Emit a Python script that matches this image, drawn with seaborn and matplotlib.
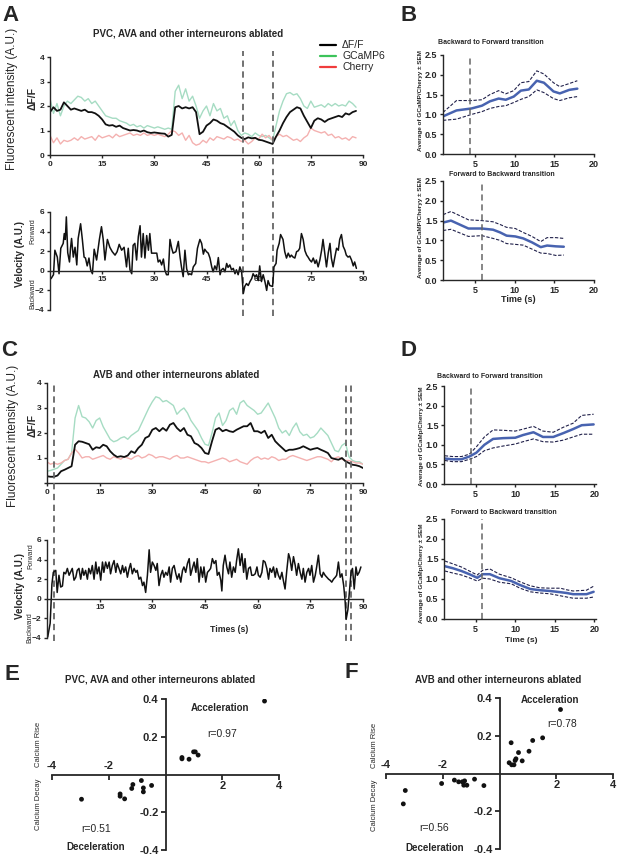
import numpy as np
import matplotlib
matplotlib.use('Agg')
import matplotlib.pyplot as plt
import seaborn as sns
from matplotlib.lines import Line2D

# estilo general (tipo Prism)
sns.set_style('ticks')
plt.rcParams['font.family'] = ['Liberation Sans', 'DejaVu Sans']
plt.rcParams['font.weight'] = 'bold'
plt.rcParams['axes.facecolor'] = 'none'
plt.rcParams['axes.linewidth'] = 1.0
plt.rcParams['xtick.major.width'] = 1.0
plt.rcParams['ytick.major.width'] = 1.0
plt.rcParams['xtick.major.size'] = 2.5
plt.rcParams['ytick.major.size'] = 2.5

# ---------------- datos ----------------
# A: PVC, AVA ablated (muestras cada 1 s)
a_t = np.arange(0, 89)
a_dff = [1.75, 1.95, 1.8, 1.85, 2.15, 2.0, 1.85, 1.9, 1.85, 1.8,
         1.85, 1.75, 1.75, 1.7, 1.6, 1.45, 1.25, 1.2, 1.22, 1.15,
         1.2, 1.1, 1.05, 1.0, 1.02, 1.0, 0.95, 1.0, 0.93, 0.9,
         0.92, 0.9, 0.88, 0.87, 0.75, 0.82, 1.95, 2.0, 1.9, 1.95,
         1.9, 1.95, 1.75, 0.85, 0.95, 1.2, 1.3, 1.45, 1.4, 1.3,
         1.25, 1.15, 1.05, 0.95, 0.8, 0.7, 0.65, 0.72, 0.68, 0.7,
         0.62, 0.6, 0.55, 0.5, 0.45, 0.75, 1.0, 1.3, 1.55, 1.75,
         1.85, 1.95, 1.9, 1.6, 1.35, 1.1, 1.4, 1.5, 1.45, 1.35,
         1.45, 1.5, 1.55, 1.6, 1.55, 1.7, 1.65, 1.75, 1.8]
a_gcamp = [2.3, 1.7, 2.1, 1.6, 2.0, 2.2, 2.1, 2.25, 2.4, 2.35,
           2.2, 2.3, 2.1, 2.2, 2.0, 1.8, 1.6, 1.55, 1.5, 1.5,
           1.4, 1.35, 1.3, 1.2, 1.25, 1.15, 1.2, 1.1, 1.2, 1.15,
           1.1, 1.15, 1.1, 1.05, 1.1, 1.05, 2.6, 2.85, 2.3, 2.7,
           2.2, 2.4, 2.0, 1.5, 1.8, 2.0, 1.6, 2.1, 1.8, 1.9,
           1.5, 1.6, 1.2, 1.4, 1.0, 0.8, 0.9, 0.85, 0.75, 0.9,
           0.8, 0.75, 0.8, 0.7, 0.6, 1.2, 1.8, 2.2, 2.5, 2.55,
           2.45, 2.5, 2.3, 2.0, 1.9, 2.2, 1.95, 2.0, 2.05, 1.95,
           2.1, 2.0, 2.1, 2.0, 2.05, 2.0, 2.2, 2.1, 1.95]
a_cherry = [0.8, 0.5, 0.7, 0.45, 0.6, 0.55, 0.6, 0.7, 0.6, 0.75,
            0.65, 0.7, 0.75, 0.6, 0.8, 0.7, 0.75, 0.8, 0.7, 0.85,
            0.75, 0.8, 0.85, 0.9, 0.8, 0.85, 0.8, 0.9, 0.8, 0.85,
            0.8, 0.85, 0.8, 0.75, 0.85, 1.0, 0.95, 0.8, 0.9, 0.6,
            0.8, 0.5, 0.4, 0.45, 0.6, 0.5, 0.7, 0.6, 0.75, 0.7,
            0.65, 0.75, 0.7, 0.6, 0.65, 0.55, 0.6, 0.45, 0.55, 0.7,
            0.65, 0.85, 0.7, 0.8, 0.6, 0.75, 0.85, 0.75, 0.8, 0.7,
            0.6, 0.65, 0.55, 0.7, 0.8, 1.1, 1.0, 0.95, 0.9, 0.95,
            0.8, 0.85, 0.7, 0.75, 0.65, 0.7, 0.6, 0.75, 0.7]
a_vel_t = [0.3, 1.0, 1.4, 2.1, 2.6, 3.1, 3.8, 4.1, 4.4, 4.7,
           5.1, 5.6, 5.9, 6.2, 6.7, 7.2, 7.7, 8.1, 8.8, 9.3,
           9.8, 10.2, 10.7, 11.2, 11.7, 12.2, 12.7, 13.4, 14.2, 14.8,
           15.3, 15.8, 16.5, 17.2, 17.9, 18.7, 19.3, 19.9, 20.6, 21.3,
           22.0, 22.5, 23.0, 23.5, 23.9, 24.4, 24.9, 25.4, 25.9, 26.3,
           26.8, 27.3, 27.8, 28.3, 28.7, 29.2, 30.2, 30.7, 31.1, 31.6,
           32.1, 32.6, 33.0, 33.5, 34.0, 34.5, 35.0, 35.4, 36.2, 36.9,
           37.4, 37.8, 38.3, 38.8, 39.3, 39.8, 40.2, 40.7, 41.2, 41.9,
           42.4, 43.1, 43.6, 44.1, 44.5, 45.0, 45.5, 46.0, 46.5, 46.9,
           47.4, 47.9, 48.4, 48.9, 49.3, 49.8, 50.3, 50.8, 51.2, 51.7,
           52.2, 52.7, 53.2, 53.6, 54.1, 54.6, 55.1, 55.6, 56.0, 56.5,
           57.0, 57.5, 58.0, 58.4, 58.9, 59.4, 59.9, 60.3, 60.8, 61.3,
           61.8, 62.3, 62.7, 63.2, 64.0, 64.4, 65.0, 65.3, 65.9, 66.3,
           67.0, 67.5, 68.0, 68.5, 69.0, 69.4, 69.9, 70.4, 70.9, 71.4,
           71.8, 72.3, 72.8, 73.3, 73.8, 74.2, 74.7, 75.2, 75.7, 76.2,
           76.6, 77.1, 77.6, 78.1, 78.5, 79.0, 79.5, 80.0, 80.5, 80.9,
           81.4, 81.9, 82.4, 82.9, 83.3, 83.8, 84.3, 84.8, 85.2, 85.7,
           86.2, 86.7, 87.2, 87.6, 88.1]
a_vel = [-0.8, -0.4, 2.1, 1.4, -0.3, 2.3, 2.8, 3.8, 3.2, 5.5,
         1.85, 0.9, 2.3, 3.3, 1.4, 2.4, 0.6, 3.3, 4.8, 3.2,
         1.4, 1.3, 0.5, 1.3, 0.1, -0.3, 2.2, 1.1, 3.2, 4.5,
         3.2, 1.1, 3.2, 2.4, 1.95, 1.6, 1.95, 2.7, 2.1, 2.4,
         0.4, 2.3, 0.1, -0.3, 2.6, 2.8, 1.1, 3.5, 4.6, 1.4,
         3.8, 1.3, 3.6, 2.1, 3.8, 1.8, 1.8, 1.8, 0.9, 1.1,
         0.6, 1.2, 0.1, -0.4, -0.4, 3.2, 2.3, 1.8, 1.95, 3.0,
         1.4, 0.4, -0.6, 2.1, 0.2, -0.4, -0.3, -0.4, 0.4, 0.75,
         2.3, 3.2, 2.8, 1.7, 2.2, 1.95, 1.8, 1.3, 0.4, -0.1,
         0.5, 0.1, 1.35, -0.4, 0.1, 0.25, -0.1, 0.75, 0.35, 0.6,
         0.1, 0.25, -0.3, 0.1, -0.4, 0.4, -0.1, -2.3, -1.6, -1.3,
         -1.5, -1.1, -0.8, -0.3, -0.6, -0.4, -1.0, 0.5, -1.1, -0.4,
         -1.1, -2.0, -1.0, -1.5, -1.6, 0.4, 0.75, 2.1, 2.8, 3.7,
         3.2, 1.95, 1.3, 1.8, 1.4, 1.6, 1.4, 1.3, 1.95, 2.05,
         2.3, 3.8, 3.2, 2.05, 1.6, 1.4, 1.1, 0.9, 1.3, 0.75,
         1.1, 0.4, 1.1, 2.1, 3.2, 1.8, 0.4, 1.8, 2.8, 1.3,
         0.4, 1.4, 2.3, 2.1, 3.2, 3.7, 2.5, 2.1, 1.6, 1.4,
         1.5, 1.1, 0.5, 0.9, 0.25]
a_marks = [55.5, 64.1]

# C: AVB ablated
c_t = np.arange(0, 91)
c_dff = [0.27, 0.25, 0.25, 0.3, 0.47, 0.53, 0.6, 0.67, 1.53, 1.67,
         1.65, 1.6, 1.55, 1.33, 1.43, 1.4, 1.53, 1.47, 1.27, 1.13,
         1.04, 1.07, 1.04, 1.1, 1.27, 1.2, 1.4, 1.53, 1.8, 1.87,
         2.13, 2.2, 2.07, 2.2, 2.09, 2.33, 2.4, 2.2, 2.07, 2.2,
         1.93, 1.87, 1.6, 1.53, 1.4, 1.2, 1.16, 1.67, 2.13, 2.2,
         2.07, 2.13, 2.07, 2.04, 2.13, 2.2, 2.27, 2.27, 2.4, 2.07,
         2.07, 2.0, 2.09, 1.8, 1.93, 1.67, 1.53, 1.4, 1.27, 1.33,
         1.33, 1.36, 1.4, 1.47, 1.4, 1.33, 1.37, 1.4, 1.33, 1.27,
         1.2, 1.0, 0.96, 0.93, 1.0, 0.87, 0.8, 0.73, 0.71, 0.67, 0.6]
c_gcamp = [0.47, 0.5, 0.55, 0.6, 0.75, 0.9, 0.95, 1.2, 2.6, 3.1,
           2.65, 2.6, 2.45, 2.2, 2.5, 2.6, 2.25, 2.0, 1.75, 1.65,
           1.7, 1.8, 1.85, 1.75, 1.9, 2.0, 2.1, 2.4, 2.7, 3.0,
           3.25, 3.45, 3.4, 3.25, 3.3, 3.2, 3.1, 2.75, 2.9, 3.0,
           2.8, 2.5, 2.3, 2.1, 1.8, 1.55, 1.5, 2.0, 2.6, 2.8,
           2.3, 2.5, 2.9, 3.0, 2.75, 3.2, 3.3, 3.1, 3.0, 2.9,
           2.75, 2.8, 3.0, 3.2, 2.9, 2.6, 2.2, 2.0, 2.1, 1.9,
           2.2, 2.4, 2.05, 1.9, 1.95, 1.8, 1.85, 2.0, 2.2, 2.05,
           1.9, 1.6, 1.3, 1.25, 1.5, 1.6, 1.05, 0.9, 0.85, 0.85, 0.75]
c_cherry = [0.85, 0.75, 0.8, 0.75, 0.8, 0.9, 0.95, 1.2, 1.35, 1.2,
            1.0, 1.05, 1.05, 0.95, 1.0, 1.05, 1.1, 1.0, 0.95, 1.05,
            1.0, 0.95, 1.05, 1.0, 0.95, 1.05, 1.1, 1.0, 1.05, 1.15,
            1.1, 1.0, 1.05, 1.05, 1.0, 0.95, 1.05, 1.1, 1.0, 1.0,
            1.05, 1.0, 0.95, 0.9, 0.85, 0.85, 0.8, 0.85, 0.9, 0.95,
            1.0, 0.95, 0.85, 0.9, 0.95, 0.85, 0.8, 0.75, 0.9, 1.0,
            1.05, 0.95, 1.0, 0.95, 1.05, 1.0, 0.9, 0.95, 0.95, 1.05,
            1.1, 1.05, 1.0, 0.95, 0.9, 0.95, 1.0, 1.05, 1.05, 1.0,
            0.95, 0.85, 1.0, 1.05, 0.95, 0.9, 0.9, 0.85, 0.8, 0.8, 0.75]
c_vel_t = [0.2, 0.9, 1.4, 1.8, 2.5, 2.9, 3.4, 3.9, 4.4, 4.8,
           5.3, 5.8, 6.3, 6.7, 7.2, 7.7, 8.2, 8.6, 9.1, 9.6,
           10.1, 10.5, 11.0, 11.5, 11.9, 12.4, 12.9, 13.4, 13.9, 14.3,
           14.8, 15.3, 15.8, 16.2, 16.7, 17.2, 17.7, 18.1, 18.6, 19.1,
           19.6, 20.0, 20.5, 21.0, 21.5, 21.9, 22.4, 22.9, 23.4, 23.8,
           24.3, 24.8, 25.3, 25.7, 26.2, 26.7, 27.2, 27.6, 28.1, 28.6,
           29.1, 29.5, 30.0, 30.5, 31.0, 31.4, 31.9, 32.4, 32.9, 33.3,
           33.8, 34.3, 34.8, 35.2, 35.7, 36.2, 36.7, 37.1, 37.6, 38.1,
           38.6, 39.0, 39.5, 40.0, 40.5, 40.9, 41.4, 41.9, 42.4, 42.8,
           43.3, 43.8, 44.3, 44.7, 45.2, 45.7, 46.2, 46.6, 47.1, 47.6,
           48.1, 48.5, 49.0, 49.5, 49.8, 50.2, 50.7, 51.2, 51.7, 52.1,
           52.6, 53.1, 53.6, 54.0, 54.5, 55.0, 55.5, 56.0, 56.4, 56.9,
           57.4, 57.9, 58.3, 58.8, 59.3, 59.8, 60.2, 60.7, 61.2, 61.6,
           62.1, 62.6, 63.1, 63.5, 64.0, 64.5, 65.0, 65.4, 65.9, 66.4,
           66.9, 67.3, 67.8, 68.3, 68.8, 69.2, 69.7, 70.2, 70.7, 71.1,
           71.6, 72.1, 72.6, 73.0, 73.5, 74.0, 74.5, 74.9, 75.4, 75.9,
           76.4, 76.8, 77.3, 77.8, 78.3, 78.7, 79.2, 79.7, 80.2, 80.6,
           81.1, 81.6, 82.1, 82.5, 83.0, 83.5, 84.0, 84.5, 84.9, 85.2,
           85.7, 86.1, 86.6, 87.0, 87.5, 88.0, 88.4, 88.9, 89.4]
c_vel = [-3.9, -2.5, 1.5, 2.7, 2.9, 0.65, 2.4, 1.2, 1.3, 2.7,
         2.55, 3.1, 2.4, 2.7, 3.1, 1.9, 2.2, 2.9, 3.1, 2.0,
         3.1, 2.4, 2.9, 2.0, 3.1, 2.55, 3.4, 2.0, 3.75, 2.55,
         3.25, 1.9, 3.75, 2.7, 3.75, 3.1, 3.75, 2.55, 3.4, 3.9,
         2.7, 3.6, 3.1, 2.55, 3.4, 2.7, 3.25, 2.2, 3.1, 3.6,
         2.55, 3.1, 2.7, 2.9, 2.0, 2.2, 1.35, 1.7, 0.65, 2.4,
         5.0, 2.7, 3.75, 3.4, 2.9, 3.6, 1.35, 2.4, 2.9, 2.2,
         2.7, 2.4, 3.25, 1.7, 3.1, 3.4, 2.55, 2.0, 2.55, 1.7,
         2.9, 3.25, 2.7, 3.6, 4.1, 2.4, 3.1, 3.75, 2.7, 4.1,
         1.7, 3.25, 2.2, 3.25, 1.7, 2.7, 2.9, 3.1, 4.1, 3.6,
         3.9, 2.4, 2.7, 1.9, 0.8, 3.4, 4.45, 3.25, 2.55, 3.75,
         2.2, 3.25, 2.7, 3.9, 5.1, 3.4, 4.6, 2.7, 4.1, 2.0,
         3.1, 3.25, 2.4, 2.4, 2.55, 3.25, 2.4, 2.2, 2.7, 3.9,
         3.75, 3.1, 2.0, 3.1, 2.7, 3.25, 2.2, 3.1, 2.4, 2.0,
         2.7, 1.9, 1.0, 2.9, 4.6, 4.1, 2.9, 4.3, 3.4, 2.4,
         3.6, 2.7, 2.0, 3.1, 1.7, 2.7, 3.1, 2.4, 3.4, 1.7,
         2.4, 3.25, 4.45, 2.55, 2.2, 2.7, 2.4, 2.2, 2.0, 1.9,
         1.7, 2.0, 2.2, 2.4, 3.75, 2.2, 2.55, 1.35, -0.2, -2.1,
         -1.1, 0.65, 2.7, 3.1, 1.0, 3.25, 2.4, 2.7, 3.25]
c_marks = [1.9, 85.1, 86.5]

# B: promedios de transiciones (PVC, AVA ablated)
b1_t = [1.0, 2.7, 4.6, 5.9, 6.9, 8.0, 8.9, 9.9, 10.8, 11.8, 12.8, 13.7, 14.9, 15.7, 16.9, 17.9]
b1_mean = [0.95, 1.1, 1.15, 1.22, 1.33, 1.4, 1.37, 1.45, 1.6, 1.63, 1.85, 1.8, 1.58, 1.53, 1.62, 1.65]
b1_hi = [1.05, 1.35, 1.35, 1.37, 1.5, 1.6, 1.52, 1.6, 1.8, 1.83, 2.1, 2.02, 1.8, 1.7, 1.78, 1.85]
b1_lo = [0.85, 0.88, 1.0, 1.07, 1.15, 1.2, 1.22, 1.3, 1.38, 1.45, 1.62, 1.55, 1.4, 1.35, 1.42, 1.45]
b1_mark = 4.45
b2_t = [1.0, 2.0, 4.2, 5.9, 7.3, 8.2, 9.0, 10.1, 11.1, 12.2, 13.3, 14.1, 15.2, 16.2]
b2_mean = [1.45, 1.5, 1.3, 1.3, 1.27, 1.2, 1.12, 1.1, 1.05, 0.95, 0.83, 0.87, 0.85, 0.84]
b2_hi = [1.65, 1.73, 1.52, 1.5, 1.47, 1.4, 1.33, 1.3, 1.2, 1.1, 0.97, 1.07, 1.07, 1.05]
b2_lo = [1.25, 1.28, 1.1, 1.12, 1.05, 1.0, 0.92, 0.9, 0.88, 0.78, 0.68, 0.67, 0.62, 0.63]
b2_mark = 5.9

# D: promedios de transiciones (AVB ablated)
d1_t = [1.1, 2.1, 3.2, 4.2, 5.1, 6.1, 7.2, 8.5, 10.0, 11.0, 12.3, 13.5, 14.8, 16.1, 17.3, 18.4, 19.9]
d1_mean = [0.65, 0.63, 0.63, 0.7, 0.8, 1.0, 1.15, 1.17, 1.18, 1.25, 1.32, 1.2, 1.2, 1.3, 1.4, 1.5, 1.52]
d1_hi = [0.72, 0.7, 0.7, 0.76, 0.95, 1.2, 1.38, 1.37, 1.35, 1.4, 1.47, 1.35, 1.32, 1.45, 1.55, 1.75, 1.78]
d1_lo = [0.6, 0.57, 0.57, 0.63, 0.7, 0.85, 0.92, 0.97, 1.02, 1.08, 1.15, 1.08, 1.07, 1.12, 1.2, 1.27, 1.27]
d1_mark = 4.35
d2_t = [1.1, 2.1, 3.2, 4.2, 5.2, 5.9, 6.8, 8.0, 9.5, 10.6, 11.9, 13.1, 14.4, 15.7, 16.5, 17.3, 19.0, 19.9]
d2_mean = [1.32, 1.27, 1.2, 1.12, 1.03, 1.12, 1.12, 1.02, 0.95, 0.85, 0.75, 0.72, 0.7, 0.67, 0.65, 0.62, 0.62, 0.68]
d2_hi = [1.45, 1.38, 1.3, 1.2, 1.1, 1.22, 1.25, 1.12, 1.03, 0.93, 0.83, 0.78, 0.77, 0.77, 0.73, 0.7, 0.72, 0.82]
d2_lo = [1.2, 1.15, 1.1, 1.03, 0.95, 1.02, 1.0, 0.92, 0.88, 0.77, 0.68, 0.65, 0.63, 0.58, 0.55, 0.52, 0.52, 0.55]
d2_mark = 5.8

# E / F: correlaciones velocidad vs calcio
e_x = [3.49, 0.58, 0.58, 0.83, 0.99, 1.05, 1.15, -2.96, -1.6, -1.6, -1.44, -1.19, -1.15, -0.85, -0.78, -0.78, -0.49]
e_y = [0.389, 0.09, 0.083, 0.081, 0.12, 0.12, 0.103, -0.131, -0.103, -0.115, -0.129, -0.074, -0.053, -0.032, -0.071, -0.092, -0.058]
f_x = [2.15, 1.52, 1.17, 1.04, 0.67, 0.41, 0.58, 0.55, 0.8, 0.34, 0.43, 0.51,
       -3.32, -3.39, -2.04, -1.59, -1.44, -1.31, -1.23, -1.26, -1.15, -0.88, -0.55]
f_y = [0.339, 0.189, 0.175, 0.118, 0.111, 0.163, 0.078, 0.069, 0.067, 0.057, 0.046, 0.046,
       -0.09, -0.161, -0.053, -0.035, -0.044, -0.044, -0.039, -0.062, -0.062, -0.03, -0.064]

# colores
BLACK = '#111111'
GREEN_TRACE = '#a6dcc3'
RED_TRACE = '#f4b1b0'
BLUE = '#4863b0'
NAVY = '#20204a'
GRAY = '#666666'

W, H = 617, 858
fig = plt.figure(figsize=(W / 100, H / 100), dpi=100)


def px_axes(x0, y0, x1, y1):
    return fig.add_axes([x0 / W, 1 - y1 / H, (x1 - x0) / W, (y1 - y0) / H])


def ftext(x, y, s, **kw):
    return fig.text(x / W, 1 - y / H, s, **kw)


def fluor_panel(ax, t, dff, gcamp, cherry):
    sns.lineplot(x=t, y=gcamp, ax=ax, color=GREEN_TRACE, lw=1.0, estimator=None)
    sns.lineplot(x=t, y=cherry, ax=ax, color=RED_TRACE, lw=1.0, estimator=None)
    sns.lineplot(x=t, y=dff, ax=ax, color=BLACK, lw=1.3, estimator=None)
    ax.set_xlim(0, 90)
    ax.set_ylim(0, 4)
    ax.set_xticks(range(0, 91, 15))
    ax.set_yticks(range(0, 5))
    ax.tick_params(labelsize=6, pad=1.5)
    ax.set_xlabel('')
    ax.set_ylabel('')
    sns.despine(ax=ax)


def vel_panel(ax, t, v):
    sns.lineplot(x=t, y=v, ax=ax, color=BLACK, lw=1.1, estimator=None)
    ax.set_xlim(0, 90)
    ax.set_ylim(-4, 6)
    ax.set_xticks(range(15, 91, 15))
    ax.set_yticks([-4, -2, 0, 2, 4, 6])
    ax.spines['bottom'].set_position(('data', 0))
    ax.tick_params(labelsize=6, pad=1.5)
    ax.set_xlabel('')
    ax.set_ylabel('')
    sns.despine(ax=ax)


def marks(ax_top, ax_bot, ts, top_extra, bot_extra):
    # lineas discontinuas que cruzan los dos paneles (dibujadas desde el panel de arriba)
    p_top = ax_top.get_position()
    p_bot = ax_bot.get_position()
    ymin = (p_bot.y0 - bot_extra - p_top.y0) / p_top.height
    ymax = 1 + top_extra / p_top.height
    for t in ts:
        ax_top.axvline(t, ymin=ymin, ymax=ymax, clip_on=False, color=GRAY,
                       lw=1.3, ls=(0, (3.5, 2.5)), zorder=5)


def avg_panel(ax, t, mean, hi, lo, mark, xmax):
    sns.lineplot(x=t, y=hi, ax=ax, color=NAVY, lw=0.8, ls=(0, (3, 1.5)), estimator=None)
    sns.lineplot(x=t, y=lo, ax=ax, color=NAVY, lw=0.8, ls=(0, (3, 1.5)), estimator=None)
    sns.lineplot(x=t, y=mean, ax=ax, color=BLUE, lw=1.8, estimator=None)
    ax.axvline(mark, ymin=0, ymax=1, color=GRAY, lw=1.1, ls=(0, (4, 2.5)))
    ax.set_xlim(1, xmax)
    ax.set_ylim(0, 2.5)
    ax.set_xticks([5, 10, 15, 20])
    ax.set_yticks([0, 0.5, 1.0, 1.5, 2.0, 2.5])
    ax.set_yticklabels(['0.0', '0.5', '1.0', '1.5', '2.0', '2.5'])
    ax.tick_params(labelsize=6.5, pad=1.5)
    ax.set_xlabel('')
    ax.set_ylabel('')
    sns.despine(ax=ax)


def corr_panel(ax, x, y):
    sns.scatterplot(x=x, y=y, ax=ax, color=BLACK, s=12, edgecolor='none')
    ax.set_xlim(-4, 4)
    ax.set_ylim(-0.4, 0.4)
    for side in ['top', 'right']:
        ax.spines[side].set_visible(False)
    ax.spines['left'].set_position(('data', 0))
    ax.spines['bottom'].set_position(('data', 0))
    ax.spines['left'].set_linewidth(1.3)
    ax.spines['bottom'].set_linewidth(1.3)
    ax.set_xticks([-4, -2, 2, 4])
    ax.set_xticklabels([])
    ax.set_yticks([-0.4, -0.2, 0.2, 0.4])
    ax.set_yticklabels(['-0.4', '-0.2', '0.2', '0.4'])
    ax.tick_params(labelsize=8, pad=1.5, length=3.5, width=1.3)
    for xv in [-4, -2]:
        ax.annotate(str(xv), (xv, 0), xytext=(0, 2.5), textcoords='offset points',
                    ha='center', va='bottom', fontsize=8)
    for xv in [2, 4]:
        ax.annotate(str(xv), (xv, 0), xytext=(0, -4.5), textcoords='offset points',
                    ha='center', va='top', fontsize=8)
    ax.set_xlabel('')
    ax.set_ylabel('')


# ---------------- panel A ----------------
ax_a1 = px_axes(50, 57, 363, 155)
fluor_panel(ax_a1, a_t, a_dff, a_gcamp, a_cherry)
ax_a2 = px_axes(50, 212, 363, 310)
vel_panel(ax_a2, a_vel_t, a_vel)
marks(ax_a1, ax_a2, a_marks, 6 / H, 6 / H)

ftext(188, 33, 'PVC, AVA and other interneurons ablated', fontsize=7, ha='center', va='center')
ftext(12, 99, 'Fluorescent intensity (A.U.)', fontsize=8.5, fontweight='normal',
      rotation=90, ha='center', va='center')
ftext(33, 98, 'ΔF/F', fontsize=7.5, rotation=90, ha='center', va='center')
ftext(20, 254, 'Velocity (A.U.)', fontsize=7, rotation=90, ha='center', va='center')
ftext(33, 231, 'Forward', fontsize=5, fontweight='normal', rotation=90, ha='center', va='center')
ftext(33, 294, 'Backward', fontsize=5, fontweight='normal', rotation=90, ha='center', va='center')

leg_handles = [Line2D([], [], color='black', lw=1.6),
               Line2D([], [], color='#3cc35a', lw=1.6),
               Line2D([], [], color='#f03c3c', lw=1.6)]
fig.legend(leg_handles, ['ΔF/F', 'GCaMP6', 'Cherry'], loc='upper left',
           bbox_to_anchor=(314 / W, 1 - 34 / H), frameon=False,
           prop={'size': 7.5, 'weight': 'normal'}, handlelength=1.5,
           labelspacing=0.1, borderpad=0.1, handletextpad=0.6)

# ---------------- panel C ----------------
ax_c1 = px_axes(47, 383, 363, 483)
fluor_panel(ax_c1, c_t, c_dff, c_gcamp, c_cherry)
ax_c1.set_yticklabels(['', '1', '2', '3', '4'])
ax_c2 = px_axes(47, 540, 363, 638)
vel_panel(ax_c2, c_vel_t, c_vel)
marks(ax_c1, ax_c2, c_marks, 0, 3 / H)

ftext(176, 375, 'AVB and other interneurons ablated', fontsize=7, ha='center', va='center')
ftext(13, 436, 'Fluorescent intensity (A.U.)', fontsize=8.5, fontweight='normal',
      rotation=90, ha='center', va='center')
ftext(33, 426, 'ΔF/F', fontsize=7.5, rotation=90, ha='center', va='center')
ftext(20, 586, 'Velocity (A.U.)', fontsize=7, rotation=90, ha='center', va='center')
ftext(31, 556, 'Forward', fontsize=5, fontweight='normal', rotation=90, ha='center', va='center')
ftext(30, 628, 'Backward', fontsize=5, fontweight='normal', rotation=90, ha='center', va='center')
ftext(229, 630, 'Times (s)', fontsize=6.3, ha='center', va='center')

# ---------------- panel B ----------------
ax_b1 = px_axes(443, 55, 594, 154)
avg_panel(ax_b1, b1_t, b1_mean, b1_hi, b1_lo, b1_mark, 20)
ax_b2 = px_axes(443, 181, 594, 280)
avg_panel(ax_b2, b2_t, b2_mean, b2_hi, b2_lo, b2_mark, 20)
ftext(438, 43, 'Backward to Forward transition', fontsize=5, ha='left', va='center')
ftext(449, 174, 'Forward to Backward transition', fontsize=5, ha='left', va='center')
ftext(420, 101, 'Average of GCaMP/Cheryy ± SEM', fontsize=4.6, rotation=90, ha='center', va='center')
ftext(420, 228, 'Average of GCaMP/Cheryy ± SEM', fontsize=4.6, rotation=90, ha='center', va='center')
ftext(518, 300, 'Time (s)', fontsize=6.5, ha='center', va='center')

# ---------------- panel D ----------------
ax_d1 = px_axes(444, 386, 596, 484)
avg_panel(ax_d1, d1_t, d1_mean, d1_hi, d1_lo, d1_mark, 20.2)
ax_d2 = px_axes(444, 519, 596, 619)
avg_panel(ax_d2, d2_t, d2_mean, d2_hi, d2_lo, d2_mark, 20.2)
ftext(437, 376, 'Backward to Forward transition', fontsize=5, ha='left', va='center')
ftext(451, 513, 'Forward to Backward transition', fontsize=5, ha='left', va='center')
ftext(422, 436, 'Average of GCaMp/Cherry ± SEM', fontsize=4.6, rotation=90, ha='center', va='center')
ftext(422, 573, 'Average of GCaMp/Cherry ± SEM', fontsize=4.6, rotation=90, ha='center', va='center')
ftext(521, 640, 'Time (s)', fontsize=6, ha='center', va='center')

# ---------------- panel E ----------------
ax_e = px_axes(52, 699, 279, 850)
corr_panel(ax_e, e_x, e_y)
ftext(160, 680, 'PVC, AVA and other interneurons ablated', fontsize=7, ha='center', va='center')
ax_e.text(1.93, 0.35, 'Acceleration', fontsize=7, ha='center', va='center')
ax_e.text(2.0, 0.217, 'r=0.97', fontsize=7.5, fontweight='normal', ha='center', va='center')
ax_e.text(-2.46, -0.287, 'r=0.51', fontsize=7.5, fontweight='normal', ha='center', va='center')
ax_e.text(-2.46, -0.385, 'Deceleration', fontsize=7, ha='center', va='center')
ftext(38, 744, 'Calcium Rise', fontsize=5.5, fontweight='normal', rotation=90, ha='center', va='center')
ftext(38, 804, 'Calcium Decay', fontsize=5.5, fontweight='normal', rotation=90, ha='center', va='center')

# ---------------- panel F ----------------
ax_f = px_axes(386, 698, 613, 849)
corr_panel(ax_f, f_x, f_y)
ftext(498, 680, 'AVB and other interneurons ablated', fontsize=7, ha='center', va='center')
ax_f.text(1.79, 0.387, 'Acceleration', fontsize=7, ha='center', va='center')
ax_f.text(2.2, 0.26, 'r=0.78', fontsize=7.5, fontweight='normal', ha='center', va='center')
ax_f.text(-2.3, -0.287, 'r=0.56', fontsize=7.5, fontweight='normal', ha='center', va='center')
ax_f.text(-2.3, -0.395, 'Deceleration', fontsize=7, ha='center', va='center')
ftext(375, 745, 'Calcium Rise', fontsize=5.5, fontweight='normal', rotation=90, ha='center', va='center')
ftext(375, 805, 'Calcium Decay', fontsize=5.5, fontweight='normal', rotation=90, ha='center', va='center')

# letras de panel
for lab, (x, y) in {'A': (2, 5), 'B': (401, 5), 'C': (1, 340), 'D': (401, 340),
                    'E': (4, 664), 'F': (344, 662)}.items():
    ftext(x, y, lab, fontsize=16, ha='left', va='top')

fig.savefig('out.png', dpi=100, facecolor='white')
